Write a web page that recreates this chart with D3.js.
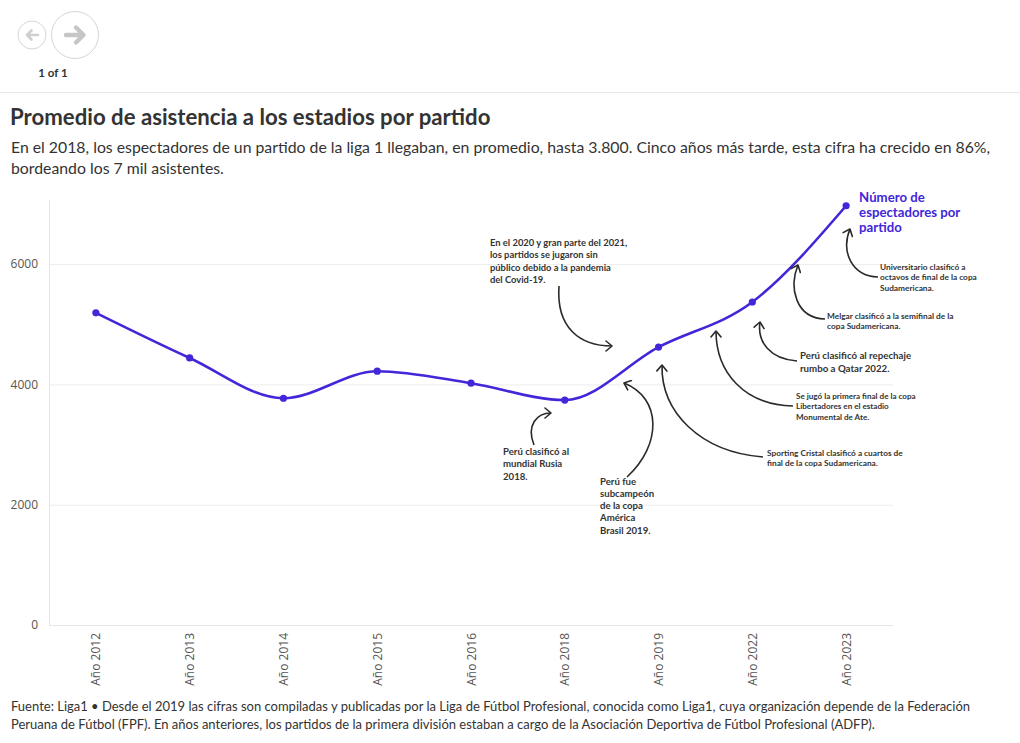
<!DOCTYPE html>
<html>
<head>
<meta charset="utf-8">
<script src="https://cdn.jsdelivr.net/npm/d3@7"></script>
<style>
  html,body{margin:0;padding:0;background:#fff;}
  svg{display:block;}
</style>
</head>
<body>
<svg id="chart" width="1020" height="743"></svg>
<script>
// ---- data ----
const categories = ["Año 2012","Año 2013","Año 2014","Año 2015","Año 2016","Año 2018","Año 2019","Año 2022","Año 2023"];
const attendance = [5190, 4440, 3770, 4220, 4020, 3740, 4620, 5370, 6970];
const yTicks = [0, 2000, 4000, 6000];
const seriesLabel = ["Número de", "espectadores por", "partido"];
const titleText = "Promedio de asistencia a los estadios por partido";
const subtitleLines = [
  "En el 2018, los espectadores de un partido de la liga 1 llegaban, en promedio, hasta 3.800. Cinco años más tarde, esta cifra ha crecido en 86%,",
  "bordeando los 7 mil asistentes."
];
const footerLines = [
  "Fuente: Liga1 • Desde el 2019 las cifras son compiladas y publicadas por la Liga de Fútbol Profesional, conocida como Liga1, cuya organización depende de la Federación",
  "Peruana de Fútbol (FPF). En años anteriores, los partidos de la primera división estaban a cargo de la Asociación Deportiva de Fútbol Profesional (ADFP)."
];
const annotationTexts = [
  ["En el 2020 y gran parte del 2021,","los partidos se jugaron sin","público debido a la pandemia","del Covid-19."],
  ["Perú clasificó al","mundial Rusia","2018."],
  ["Perú fue","subcampeón","de la copa","América","Brasil 2019."],
  ["Sporting Cristal clasificó a cuartos de","final de la copa Sudamericana."],
  ["Se jugó la primera final de la copa","Libertadores en el estadio","Monumental de Ate."],
  ["Perú clasificó al repechaje","rumbo a Qatar 2022."],
  ["Melgar clasificó a la semifinal de la","copa Sudamericana."],
  ["Universitario clasificó a","octavos de final de la copa","Sudamericana."]
];

// ---- layout (annotation placement, pixels) ----
const annLayout = [
  {tx:490, ty:246, fs:9.4, lh:12.3, path:[[559,286],[556,328],[580,346],[612,346]]},
  {tx:503, ty:454.5, fs:9.6, lh:12.5, path:[[534,445],[526,425],[537,413],[551,413]]},
  {tx:600, ty:484.5, fs:9.6, lh:12.3, path:[[627,477],[662,445],[662,398],[624,383]]},
  {tx:767, ty:455.5, fs:8.3, lh:10.7, path:[[763,457],[700,452],[661,412],[662,365]]},
  {tx:796, ty:398.5, fs:8.1, lh:10.7, path:[[793,406],[744,405],[716,372],[716,331]]},
  {tx:800, ty:359, fs:9.7, lh:13, path:[[797,361],[770,359],[757,342],[760,322]]},
  {tx:827, ty:318.5, fs:8.3, lh:10.7, path:[[825,319],[795,318],[789,287],[798,265]]},
  {tx:880, ty:270, fs:8.3, lh:10.4, path:[[878,277],[851,276],[841,251],[850,229]]}
];

const FONT = "Lato, 'Source Sans Pro', sans-serif";
const AXFONT = "'Open Sans', sans-serif";
const lineColor = "#4127d9";

const svg = d3.select("#chart");
const margin = {left:49, right:1020-893, top:200, bottom:743-625};
const W = 1020, H = 743;

const x = d3.scalePoint().domain(categories).range([margin.left, W - margin.right]).padding(0.5);
const y = d3.scaleLinear().domain([0, 7066]).range([H - margin.bottom, margin.top]);

function multiline(sel, lines, x0, y0, lh){
  const t = sel.append("text").attr("x",x0).attr("y",y0);
  t.selectAll("tspan").data(lines).join("tspan")
    .attr("x",x0).attr("y",(d,i)=>y0 + i*lh).text(d=>d);
  return t;
}

// ---- nav ----
const nav = svg.append("g");
nav.append("circle").attr("cx",32).attr("cy",35).attr("r",14).attr("fill","#fff").attr("stroke","#d6d6d6");
nav.append("path").attr("d","M38,35 L27,35 M31.5,30.5 L27,35 L31.5,39.5")
  .attr("fill","none").attr("stroke","#cfcfcf").attr("stroke-width",2.6).attr("stroke-linecap","round").attr("stroke-linejoin","round");
nav.append("circle").attr("cx",75).attr("cy",35).attr("r",23.5).attr("fill","#fff").attr("stroke","#d6d6d6");
nav.append("path").attr("d","M66,35 L83,35 M76,27.5 L83.5,35 L76,42.5")
  .attr("fill","none").attr("stroke","#c6c6c6").attr("stroke-width",4.4).attr("stroke-linecap","round").attr("stroke-linejoin","round");
nav.append("text").attr("x",53).attr("y",77).attr("text-anchor","middle")
  .attr("font-family",FONT).attr("font-weight",700).attr("font-size",11.5).attr("fill","#333").text("1 of 1");
svg.append("line").attr("x1",0).attr("x2",W).attr("y1",92.5).attr("y2",92.5).attr("stroke","#e8e8e8");

// ---- titles ----
svg.append("text").attr("x",10).attr("y",125).attr("font-family",FONT).attr("font-weight",700)
  .attr("font-size",22.2).attr("fill","#333").text(titleText);
multiline(svg, subtitleLines, 11, 153, 21)
  .attr("font-family",FONT).attr("font-size",15.8).attr("fill","#333");

// ---- grid & axes ----
const g = svg.append("g");
g.append("g").selectAll("line").data(yTicks.filter(t=>t>0)).join("line")
  .attr("x1",margin.left).attr("x2",W-margin.right).attr("y1",d=>y(d)+0.5).attr("y2",d=>y(d)+0.5)
  .attr("stroke","#ececec");
g.append("line").attr("x1",margin.left).attr("x2",W-margin.right).attr("y1",y(0)+0.5).attr("y2",y(0)+0.5).attr("stroke","#e6e6e6");
g.append("line").attr("x1",margin.left+0.5).attr("x2",margin.left+0.5).attr("y1",margin.top).attr("y2",y(0)).attr("stroke","#e6e6e6");

const yAxis = d3.axisLeft(y).tickValues(yTicks).tickSize(0).tickPadding(11).tickFormat(d3.format("d"));
const ya = g.append("g").attr("transform",`translate(${margin.left},0)`).call(yAxis);
ya.select(".domain").remove();
ya.selectAll("text").attr("font-family",AXFONT).attr("font-size",12).attr("fill","#555");

const xAxis = d3.axisBottom(x).tickSize(0).tickPadding(0);
const xa = g.append("g").attr("transform",`translate(0,${y(0)})`).call(xAxis);
xa.select(".domain").remove();
xa.selectAll("text")
  .attr("font-family",AXFONT).attr("font-size",12).attr("fill","#555")
  .attr("text-anchor","end").attr("dy",null).attr("y",0).attr("x",0)
  .attr("transform","translate(4,8) rotate(-90)");

// ---- line ----
const pts = categories.map((c,i)=>({c, v:attendance[i]}));
const lineGen = d3.line().x(d=>x(d.c)).y(d=>y(d.v)).curve(d3.curveMonotoneX);
g.append("path").datum(pts).attr("d",lineGen).attr("fill","none").attr("stroke",lineColor).attr("stroke-width",2.6);
g.append("g").selectAll("circle").data(pts).join("circle")
  .attr("cx",d=>x(d.c)).attr("cy",d=>y(d.v)).attr("r",3.6).attr("fill",lineColor);

// series label
const last = pts[pts.length-1];
multiline(svg, seriesLabel, x(last.c)+13, y(last.v)-4, 15)
  .attr("font-family",FONT).attr("font-weight",700).attr("font-size",13.2).attr("fill",lineColor);

// ---- annotations ----
const defs = svg.append("defs");
defs.append("marker").attr("id","arr").attr("viewBox","-8 -6 10 12").attr("refX",0).attr("refY",0)
  .attr("markerWidth",10).attr("markerHeight",12).attr("markerUnits","userSpaceOnUse").attr("orient","auto")
  .append("path").attr("d","M-6,-5 L0,0 L-6,5").attr("fill","none").attr("stroke","#2a2a2a")
  .attr("stroke-width",1.6).attr("stroke-linecap","round").attr("stroke-linejoin","round");

const ann = svg.append("g");
annLayout.forEach((L,k)=>{
  const p = L.path;
  ann.append("path").attr("d",`M${p[0]}C${p[1]} ${p[2]} ${p[3]}`)
    .attr("fill","none").attr("stroke","#2a2a2a").attr("stroke-width",1.6).attr("marker-end","url(#arr)");
  multiline(ann, annotationTexts[k], L.tx, L.ty, L.lh)
    .attr("font-family",FONT).attr("font-weight",700).attr("font-size",L.fs).attr("fill","#333");
});

// ---- footer ----
multiline(svg, footerLines, 11, 711, 18)
  .attr("font-family",FONT).attr("font-size",13.0).attr("fill","#333");
</script>
</body>
</html>
